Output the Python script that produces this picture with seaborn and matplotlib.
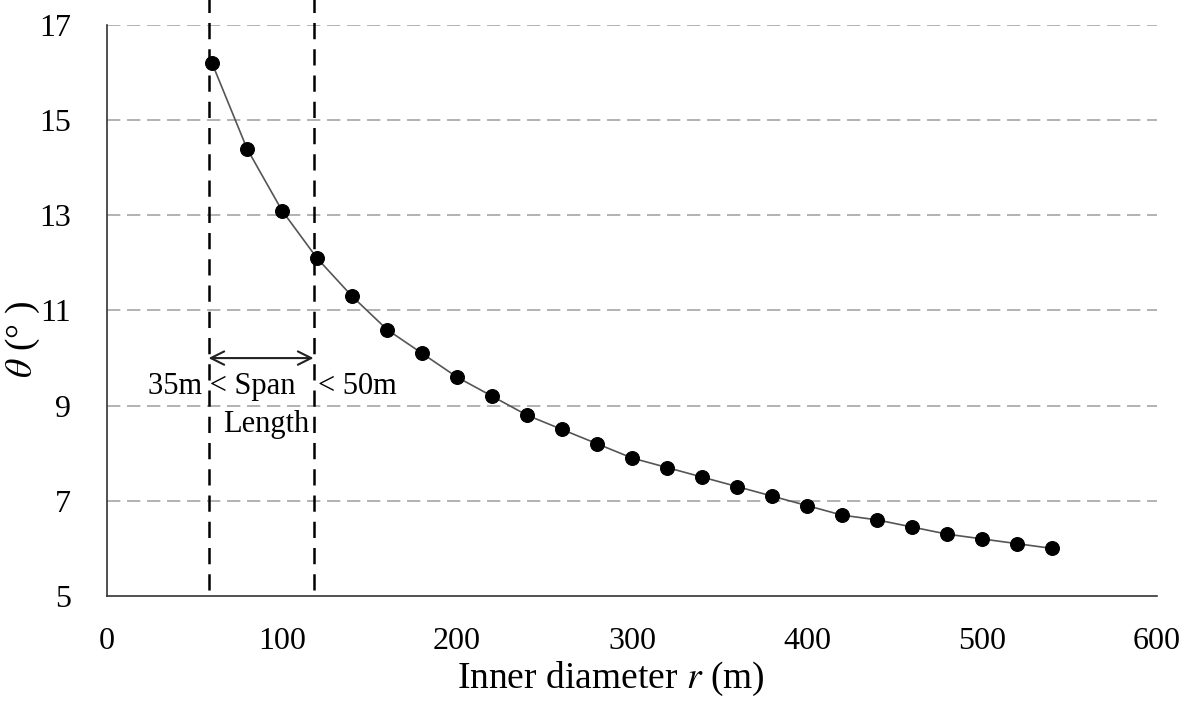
import numpy as np
import pandas as pd
import matplotlib
matplotlib.use("Agg")
import matplotlib.pyplot as plt
import seaborn as sns

# inner diameter r (m) and angle theta (deg)
r_vals = [60, 80, 100, 120, 140, 160, 180, 200, 220, 240, 260, 280, 300,
          320, 340, 360, 380, 400, 420, 440, 460, 480, 500, 520, 540]
theta_vals = [16.2, 14.4, 13.1, 12.1, 11.3, 10.6, 10.1, 9.6, 9.2, 8.8, 8.5, 8.2, 7.9,
              7.7, 7.5, 7.3, 7.1, 6.9, 6.7, 6.6, 6.45, 6.3, 6.2, 6.1, 6.0]
span_bounds = [58, 118]  # span length limits (35m / 50m)
x_ticks = [0, 100, 200, 300, 400, 500, 600]
y_ticks = [5, 7, 9, 11, 13, 15, 17]

df = pd.DataFrame({"r": r_vals, "theta": theta_vals})

sns.set_theme(style="white")
plt.rcParams['font.family'] = ['Liberation Serif', 'DejaVu Serif']
plt.rcParams['mathtext.fontset'] = 'stix'
plt.rcParams['text.color'] = 'black'
plt.rcParams['axes.labelcolor'] = 'black'

fig = plt.figure(figsize=(11.8, 7.02), dpi=100)
ax = fig.add_axes([0.0907, 0.151, 0.8898, 0.8134])

# horizontal grid
for yv in y_ticks[1:]:
    ax.axhline(yv, color="#a6a6a6", lw=1.2, ls=(0, (8, 4)), zorder=0)

# span limits
for xv in span_bounds:
    ax.plot([xv, xv], [5.13, 17.55], color="black", lw=1.8, ls=(0, (6.5, 4)),
            clip_on=False, zorder=1)

sns.lineplot(data=df, x="r", y="theta", ax=ax, color="#555555", lw=1.2,
             marker="o", markersize=10, markerfacecolor="black",
             markeredgecolor="black", zorder=3)

ax.annotate("", xy=(span_bounds[0], 10.0), xytext=(span_bounds[1], 10.0),
            arrowprops=dict(arrowstyle="<->", lw=1.5, color="#222222",
                            shrinkA=0, shrinkB=0, mutation_scale=24))
ax.text(23.5, 9.4, "35m < Span", fontsize=22, ha="left", va="center")
ax.text(120.5, 9.4, "< 50m", fontsize=22, ha="left", va="center")
ax.text(91, 8.6, "Length", fontsize=22, ha="center", va="center")

ax.set_xlim(0, 600)
ax.set_ylim(5, 17)
ax.set_xticks(x_ticks)
ax.set_yticks(y_ticks)
ax.tick_params(direction="in", length=7, width=1.2, labelsize=23, pad=22,
               color="#333333", labelcolor="black")
ax.tick_params(axis="y", pad=26)
for side in ["top", "right"]:
    ax.spines[side].set_visible(False)
for side in ["left", "bottom"]:
    ax.spines[side].set_color("#333333")
    ax.spines[side].set_linewidth(1.2)

ax.set_xlabel("Inner diameter $r$ (m)", fontsize=27)
ax.set_ylabel(r"$\theta$ (° )", fontsize=27)
ax.xaxis.set_label_coords(0.48, -0.112)
ax.yaxis.set_label_coords(-0.062, 0.45)

fig.savefig("out.png", dpi=100)
